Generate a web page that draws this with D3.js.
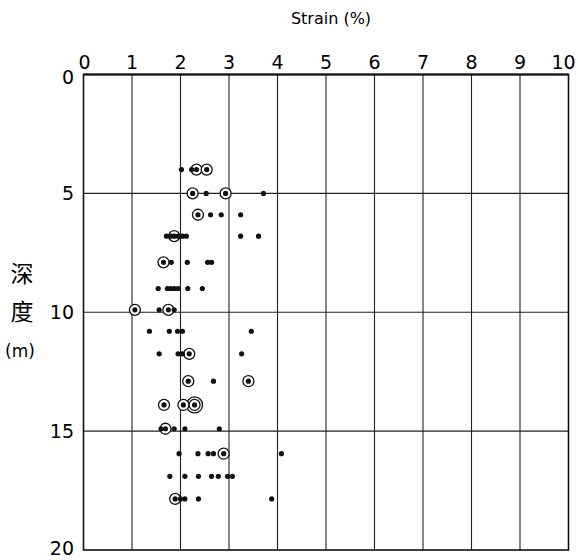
<!DOCTYPE html>
<html>
<head>
<meta charset="utf-8">
<title>Strain vs depth</title>
<script src="https://cdn.jsdelivr.net/npm/d3@7"></script>
<style>
  body { margin: 0; background: #fff; }
  text { font-family: "DejaVu Sans", sans-serif; fill: #000; }
</style>
</head>
<body>
<div id="chart"></div>
<script>
// [depth (m), strain (%)]
var filled = [
  [4.0, 2.02], [4.0, 2.23],
  [5.0, 2.53], [5.0, 3.71],
  [5.9, 2.62], [5.9, 2.84], [5.9, 3.24],
  [6.8, 1.71], [6.8, 1.80], [6.8, 1.95], [6.8, 2.04], [6.8, 2.12], [6.8, 3.24], [6.8, 3.61],
  [7.9, 1.81], [7.9, 2.14], [7.9, 2.56], [7.9, 2.64],
  [9.0, 1.54], [9.0, 1.73], [9.0, 1.80], [9.0, 1.87], [9.0, 1.95], [9.0, 2.15], [9.0, 2.45],
  [9.9, 1.56], [9.9, 1.87],
  [10.8, 1.36], [10.8, 1.77], [10.8, 1.94], [10.8, 2.04], [10.8, 3.46],
  [11.75, 1.56], [11.75, 1.95], [11.75, 2.04], [11.75, 3.26],
  [12.9, 2.68],
  [14.9, 1.60], [14.9, 1.87], [14.9, 2.09], [14.9, 2.80],
  [15.95, 1.97], [15.95, 2.36], [15.95, 2.57], [15.95, 2.68], [15.95, 4.08],
  [16.9, 1.78], [16.9, 2.09], [16.9, 2.37], [16.9, 2.64], [16.9, 2.78], [16.9, 2.97], [16.9, 3.07],
  [17.85, 2.00], [17.85, 2.09], [17.85, 2.37], [17.85, 3.88]
];
var circled = [
  [4.0, 2.33], [4.0, 2.54],
  [5.0, 2.25], [5.0, 2.93],
  [5.9, 2.36],
  [6.8, 1.87],
  [7.9, 1.65],
  [9.9, 1.06], [9.9, 1.75],
  [11.75, 2.18],
  [12.9, 2.16], [12.9, 3.40],
  [13.9, 1.66], [13.9, 2.06],
  [14.9, 1.69],
  [15.95, 2.89],
  [17.85, 1.89]
];
var doubleCircled = [[13.9, 2.29]];

var xTicks = [0, 1, 2, 3, 4, 5, 6, 7, 8, 9, 10];
var yTicks = [0, 5, 10, 15, 20];

var width = 578, height = 560;
var svg = d3.select("#chart").append("svg")
  .attr("width", width).attr("height", height);

var x = d3.scaleLinear().domain([0, 10]).range([83.5, 568.5]);
var y = d3.scaleLinear().domain([0, 20]).range([74.5, 550]);

// grid
svg.append("g").selectAll("line").data(xTicks.slice(1, -1)).enter().append("line")
  .attr("x1", d => x(d)).attr("x2", d => x(d))
  .attr("y1", y(0)).attr("y2", y(20))
  .attr("stroke", "#222").attr("stroke-width", 1.1);
svg.append("g").selectAll("line").data(yTicks.slice(1, -1)).enter().append("line")
  .attr("x1", x(0)).attr("x2", x(10))
  .attr("y1", d => y(d)).attr("y2", d => y(d))
  .attr("stroke", "#222").attr("stroke-width", 1.1);

// frame
svg.append("rect")
  .attr("x", x(0)).attr("y", y(0))
  .attr("width", x(10) - x(0)).attr("height", y(20) - y(0))
  .attr("fill", "none").attr("stroke", "#111").attr("stroke-width", 1.6);
svg.append("line").attr("x1", x(0)).attr("x2", x(10)).attr("y1", y(0)).attr("y2", y(0))
  .attr("stroke", "#111").attr("stroke-width", 2.2);

// tick labels
svg.append("g").selectAll("text").data(xTicks).enter().append("text")
  .attr("x", d => x(d) + (d === 0 ? 1 : d === 10 ? -5 : 0)).attr("y", 69)
  .attr("text-anchor", "middle")
  .style("font-size", "19px")
  .text(d => d);
svg.append("g").selectAll("text").data(yTicks).enter().append("text")
  .attr("x", 74).attr("y", d => y(d) + (d === 0 ? 9 : d === 20 ? 5 : 7))
  .attr("text-anchor", "end")
  .style("font-size", "19px")
  .text(d => d);

svg.append("text").attr("x", 331).attr("y", 24)
  .attr("text-anchor", "middle")
  .style("font-size", "16px")
  .text("Strain (%)");

svg.append("text").attr("x", 22).attr("y", 282).attr("text-anchor", "middle")
  .style("font-family", "'Noto Sans CJK SC', sans-serif").style("font-size", "23px")
  .text("深");
svg.append("text").attr("x", 22).attr("y", 320).attr("text-anchor", "middle")
  .style("font-family", "'Noto Sans CJK SC', sans-serif").style("font-size", "23px")
  .text("度");
svg.append("text").attr("x", 20).attr("y", 357).attr("text-anchor", "middle")
  .style("font-size", "17px")
  .text("(m)");

// points
var pts = svg.append("g");
pts.selectAll("circle.ring2").data(doubleCircled).enter().append("circle")
  .attr("cx", d => x(d[1])).attr("cy", d => y(d[0])).attr("r", 8)
  .attr("fill", "#fff").attr("stroke", "#111").attr("stroke-width", 1.3);
pts.selectAll("circle.ring").data(circled.concat(doubleCircled)).enter().append("circle")
  .attr("cx", d => x(d[1])).attr("cy", d => y(d[0])).attr("r", 5.5)
  .attr("fill", "#fff").attr("stroke", "#111").attr("stroke-width", 1.3);
pts.selectAll("circle.dot").data(filled.concat(circled, doubleCircled)).enter().append("circle")
  .attr("cx", d => x(d[1])).attr("cy", d => y(d[0])).attr("r", 2.6)
  .attr("fill", "#111");
</script>
</body>
</html>
